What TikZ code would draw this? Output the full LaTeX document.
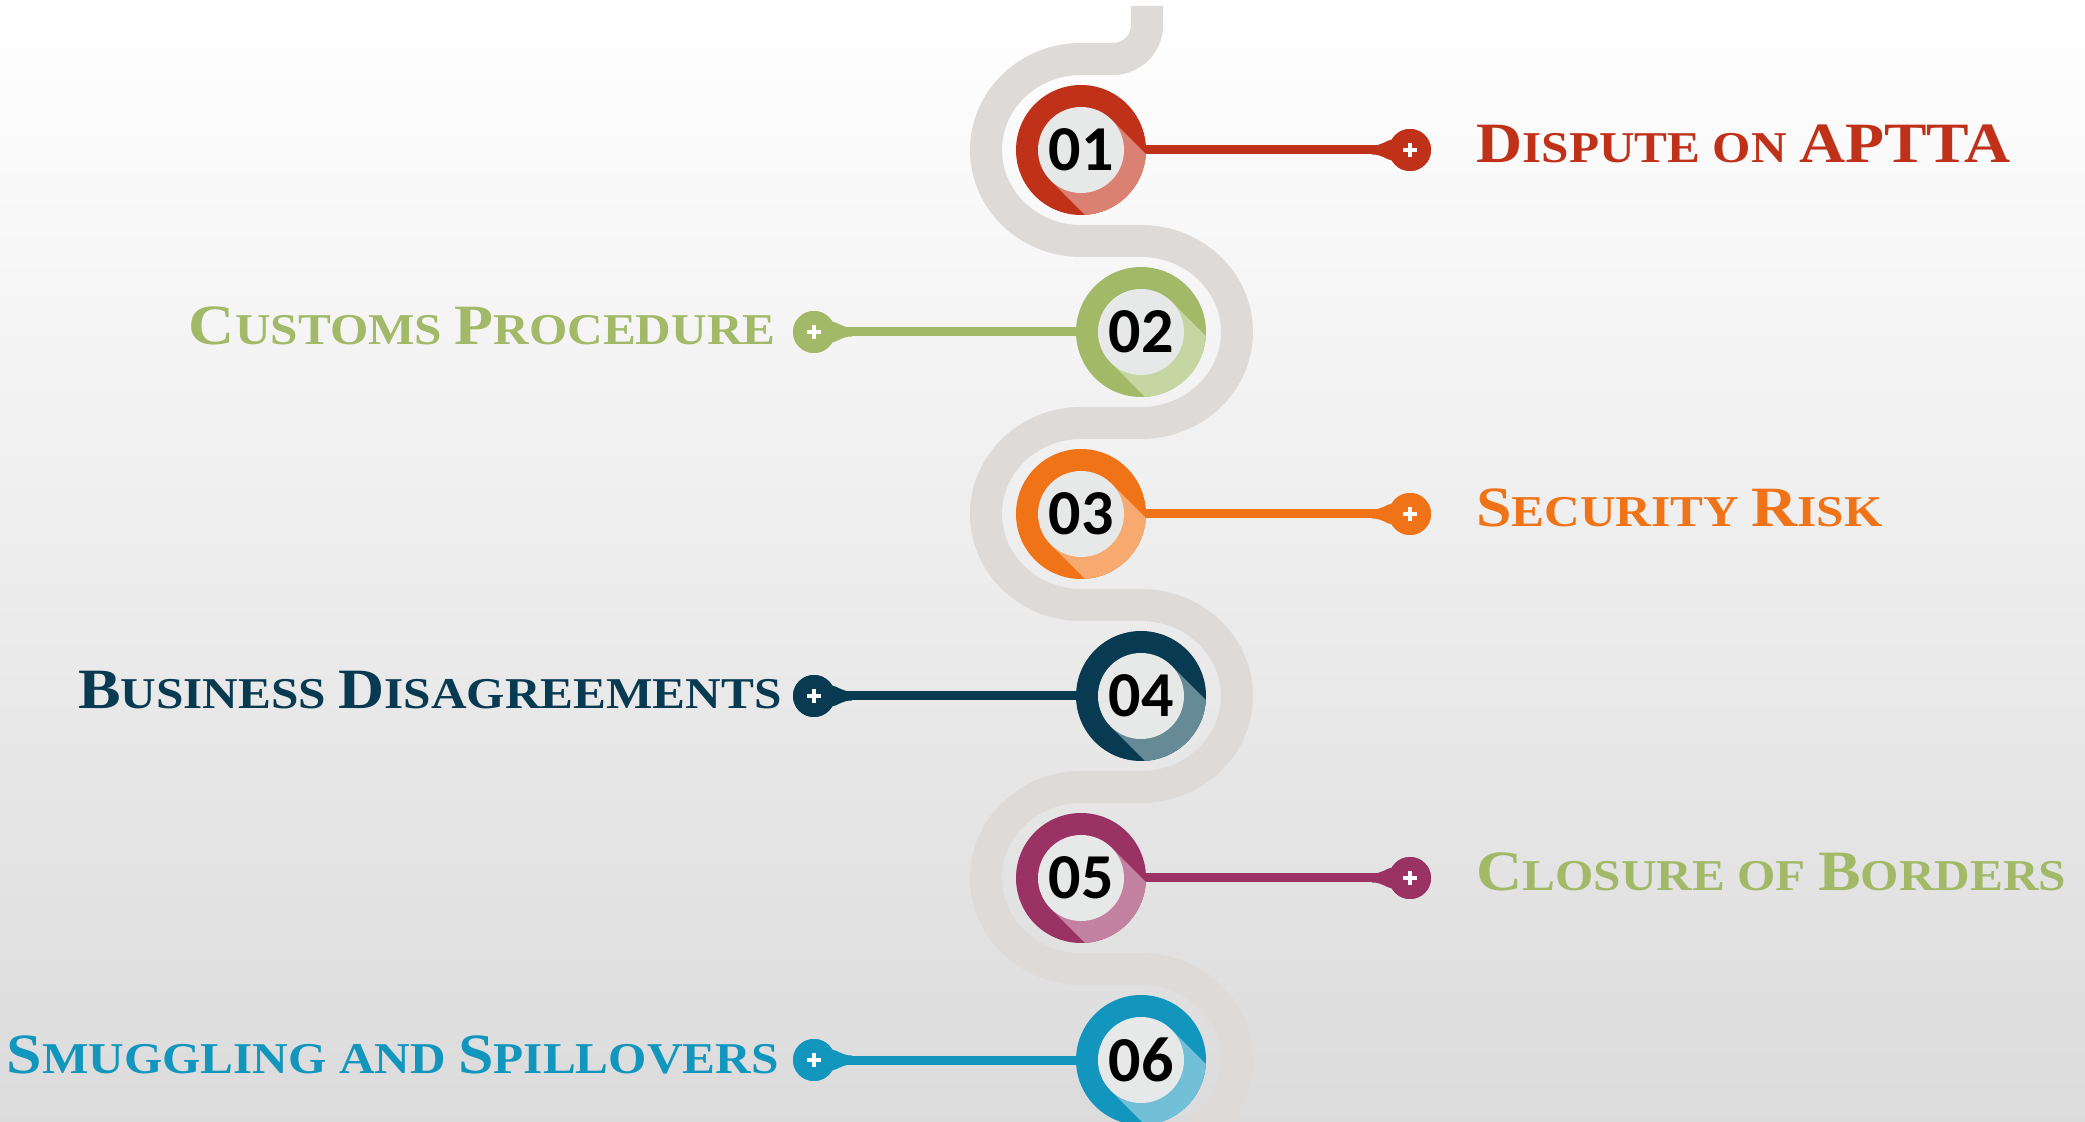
\documentclass[tikz,border=0pt]{standalone}
\usepackage{fontspec}
\usepackage{tikz}
\usetikzlibrary{shapes}
\newfontfamily\lblfont[FakeStretch=1.12]{Liberation Serif}
\newfontfamily\numfont{Carlito}
\definecolor{roadgray}{HTML}{DEDAD8}
\definecolor{innergray}{HTML}{E7E8E8}
\definecolor{redA}{HTML}{C0311A}   \definecolor{redB}{HTML}{DB8174}
\definecolor{greenA}{HTML}{A2BA68} \definecolor{greenB}{HTML}{C6D6A2}
\definecolor{orangeA}{HTML}{F07318}\definecolor{orangeB}{HTML}{F6AA6F}
\definecolor{navyA}{HTML}{083A52}  \definecolor{navyB}{HTML}{678A97}
\definecolor{plumA}{HTML}{9A3264}  \definecolor{plumB}{HTML}{C482A2}
\definecolor{tealA}{HTML}{1296BE}  \definecolor{tealB}{HTML}{72C0D8}
\newcommand{\bigc}[1]{{\fontsize{28.5}{28.5}\selectfont #1}}
% disc: name, position, dark, light, number
\newcommand{\milestone}[5]{
  \node[disc, fill=#3] (#1) at (#2) {};
  \begin{scope}[shift={(#2)}]
    \clip (0,0) circle (65);
    \fill[#4] (45:43) -- ++(-45:140) -- ++(225:86) -- ++(135:140) -- cycle;
  \end{scope}
  \node[hole] (#1-in) at (#2) {#5};
}
% knob: name, position, colour, side (1 = neck left, -1 = neck right)
\newcommand{\knob}[4]{
  \node[knobnode, fill=#3] (#1) at (#2) {};
  \fill[#3, shift={(#2)}, xscale=#4] (-38,4.5) .. controls (-28,4.5) and (-25,9) .. (150:21)
    arc[start angle=150, end angle=-150, radius=21]
    .. controls (-25,-9) and (-28,-4.5) .. (-38,-4.5) -- cycle;
  \draw[white, line width=2pt] (#1.center) ++(-7,0) -- ++(14,0) (#1.center) ++(0,-7) -- ++(0,14);
}
\tikzset{
  road/.style={draw=roadgray, line width=16pt},
  disc/.style={circle, minimum size=65pt, inner sep=0pt},
  hole/.style={circle, fill=innergray, minimum size=43pt, inner sep=0pt,
    font=\numfont\bfseries\fontsize{32}{32}\selectfont},
  knobnode/.style={circle, minimum size=21pt, inner sep=0pt},
  stem/.style={line width=4.5pt},
  lbl/.style={font=\lblfont\bfseries\fontsize{22}{22}\selectfont, inner sep=0pt}
}

\begin{document}
\begin{tikzpicture}[x=0.5pt, y=0.5pt]
  \useasboundingbox (0,0) rectangle (2085,-1122);
  \clip (0,0) rectangle (2085,-1122);
  \shade[top color=white, middle color=black!3, bottom color=black!14] (0,0) rectangle (2085,-1122);

  % winding road
  \draw[road] (1147,-6) -- (1147,-25) arc[start angle=0, end angle=-90, radius=34]
    -- (1081,-59) arc[start angle=90, end angle=270, x radius=95, y radius=91]
    -- (1141,-241) arc[start angle=90, end angle=-90, x radius=96, y radius=91]
    -- (1081,-423) arc[start angle=90, end angle=270, x radius=95, y radius=91]
    -- (1141,-605) arc[start angle=90, end angle=-90, x radius=96, y radius=91]
    -- (1081,-787) arc[start angle=90, end angle=270, x radius=95, y radius=91]
    -- (1141,-969) arc[start angle=90, end angle=-90, x radius=96, y radius=91];

  \milestone{d1}{1081,-150}{redA}{redB}{01}
  \milestone{d2}{1141,-332}{greenA}{greenB}{02}
  \milestone{d3}{1081,-514}{orangeA}{orangeB}{03}
  \milestone{d4}{1141,-696}{navyA}{navyB}{04}
  \milestone{d5}{1081,-878}{plumA}{plumB}{05}
  \milestone{d6}{1141,-1060}{tealA}{tealB}{06}

  \knob{k1}{1410,-150}{redA}{1}
  \knob{k2}{814,-332}{greenA}{-1}
  \knob{k3}{1410,-514}{orangeA}{1}
  \knob{k4}{814,-696}{navyA}{-1}
  \knob{k5}{1410,-878}{plumA}{1}
  \knob{k6}{814,-1060}{tealA}{-1}

  \draw[stem, redA] (d1.east) -- (k1);
  \draw[stem, greenA] (d2.west) -- (k2);
  \draw[stem, orangeA] (d3.east) -- (k3);
  \draw[stem, navyA] (d4.west) -- (k4);
  \draw[stem, plumA] (d5.east) -- (k5);
  \draw[stem, tealA] (d6.west) -- (k6);

  \node[lbl, text=redA, anchor=base west] (t1) at (1476,-163) {\bigc{D}ISPUTE ON \bigc{APTTA}};
  \node[lbl, text=greenA, anchor=base east] (t2) at (776,-345) {\bigc{C}USTOMS \bigc{P}ROCEDURE};
  \node[lbl, text=orangeA, anchor=base west] (t3) at (1476,-527) {\bigc{S}ECURITY \bigc{R}ISK};
  \node[lbl, text=navyA, anchor=base east] (t4) at (782,-709) {\bigc{B}USINESS \bigc{D}ISAGREEMENTS};
  \node[lbl, text=greenA, anchor=base west] (t5) at (1476,-891) {\bigc{C}LOSURE OF \bigc{B}ORDERS};
  \node[lbl, text=tealA, anchor=base east] (t6) at (779,-1073) {\bigc{S}MUGGLING AND \bigc{S}PILLOVERS};
\end{tikzpicture}
\end{document}
